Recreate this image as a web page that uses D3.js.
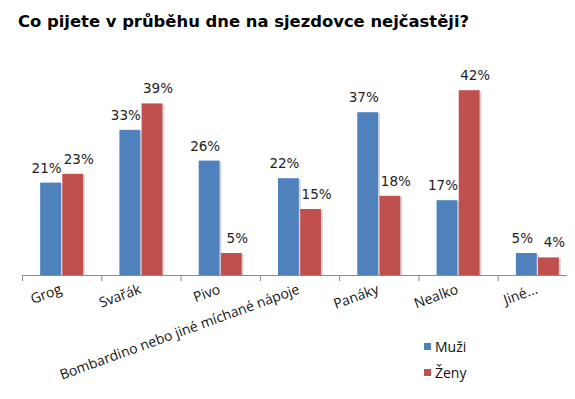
<!DOCTYPE html>
<html>
<head>
<meta charset="utf-8">
<script src="https://cdn.jsdelivr.net/npm/d3@7"></script>
<style>
  body { margin: 0; background: #fff; }
  svg { display: block; }
</style>
</head>
<body>
<svg width="575" height="399"></svg>
<script>
// data
const categories = ["Grog", "Svařák", "Pivo", "Bombardino nebo jiné míchané nápoje", "Panáky", "Nealko", "Jiné..."];
const series = ["Muži", "Ženy"];
const muzi = [21, 33, 26, 22, 37, 17, 5];
const zeny = [23, 39, 5, 15, 18, 42, 4];
const colors = ["#4f81bd", "#c0504d"];

const rows = categories.map((c, i) => ({cat: c, values: [muzi[i], zeny[i]]}));

const svg = d3.select("svg");
const baseY = 275;

let x0 = d3.scaleBand().domain(categories).range([22, 577]);
let x1 = d3.scaleBand().domain(series).range([0, 43]).paddingInner(0.06);
let y = d3.scaleLinear().domain([0, 50]).range([baseY, 55]);

svg.append("text")
    .attr("x", 18).attr("y", 27)
    .attr("font-family", "DejaVu Sans")
    .attr("font-weight", "bold")
    .attr("font-size", 16.4)
    .attr("fill", "#000")
    .text("Co pijete v průběhu dne na sjezdovce nejčastěji?");

// axis with ticks on band edges
let edge = d3.scaleLinear().domain([0, categories.length]).range(x0.range());
svg.append("g")
    .attr("transform", `translate(0,${baseY})`)
    .call(d3.axisBottom(edge).tickValues(d3.range(0, categories.length + 1))
        .tickSize(6).tickSizeOuter(0).tickFormat(""))
    .call(g => g.select("path").attr("d", "M22.5,0.5H567"))
    .call(g => g.selectAll("path, line").attr("stroke", "#8c8c8c"));

let groups = svg.append("g").selectAll("g")
    .data(rows)
    .join("g")
    .attr("transform", d => `translate(${x0(d.cat) + (x0.bandwidth() - 43) / 2},0)`);

let bars = groups.selectAll("g")
    .data(d => d.values.map((v, i) => ({s: series[i], i, v})))
    .join("g");

// soft shadow
bars.append("rect")
    .attr("x", d => x1(d.s) + 2)
    .attr("y", d => y(d.v) + 1)
    .attr("width", x1.bandwidth())
    .attr("height", d => baseY - y(d.v) - 1)
    .attr("fill", "#d8d8d8");

bars.append("rect")
    .attr("x", d => x1(d.s))
    .attr("y", d => y(d.v))
    .attr("width", x1.bandwidth())
    .attr("height", d => baseY - y(d.v))
    .attr("fill", d => colors[d.i]);

bars.append("text")
    .attr("x", d => x1(d.s) + x1.bandwidth() / 2 + (d.i === 0 ? -4 : 6))
    .attr("y", d => y(d.v) - 10)
    .attr("text-anchor", "middle")
    .attr("font-family", "DejaVu Sans")
    .attr("font-size", 13.5)
    .attr("fill", "#222")
    .text(d => d.v + "%");

// rotated category labels
svg.append("g").selectAll("text")
    .data(categories)
    .join("text")
    .attr("transform", d => `translate(${x0(d) + x0.bandwidth() / 2 + 1},293) rotate(-20)`)
    .attr("text-anchor", "end")
    .attr("font-family", "Open Sans")
    .attr("font-size", 14)
    .attr("fill", "#111")
    .text(d => d);

// legend
let legend = svg.append("g").selectAll("g")
    .data(series)
    .join("g")
    .attr("transform", (d, i) => `translate(424,${343 + i * 26})`);
legend.append("rect")
    .attr("width", 7).attr("height", 7)
    .attr("fill", (d, i) => colors[i]);
legend.append("text")
    .attr("x", 11).attr("y", 9)
    .attr("font-family", "Open Sans")
    .attr("font-size", 14)
    .attr("fill", "#111")
    .text(d => d);
</script>
</body>
</html>
